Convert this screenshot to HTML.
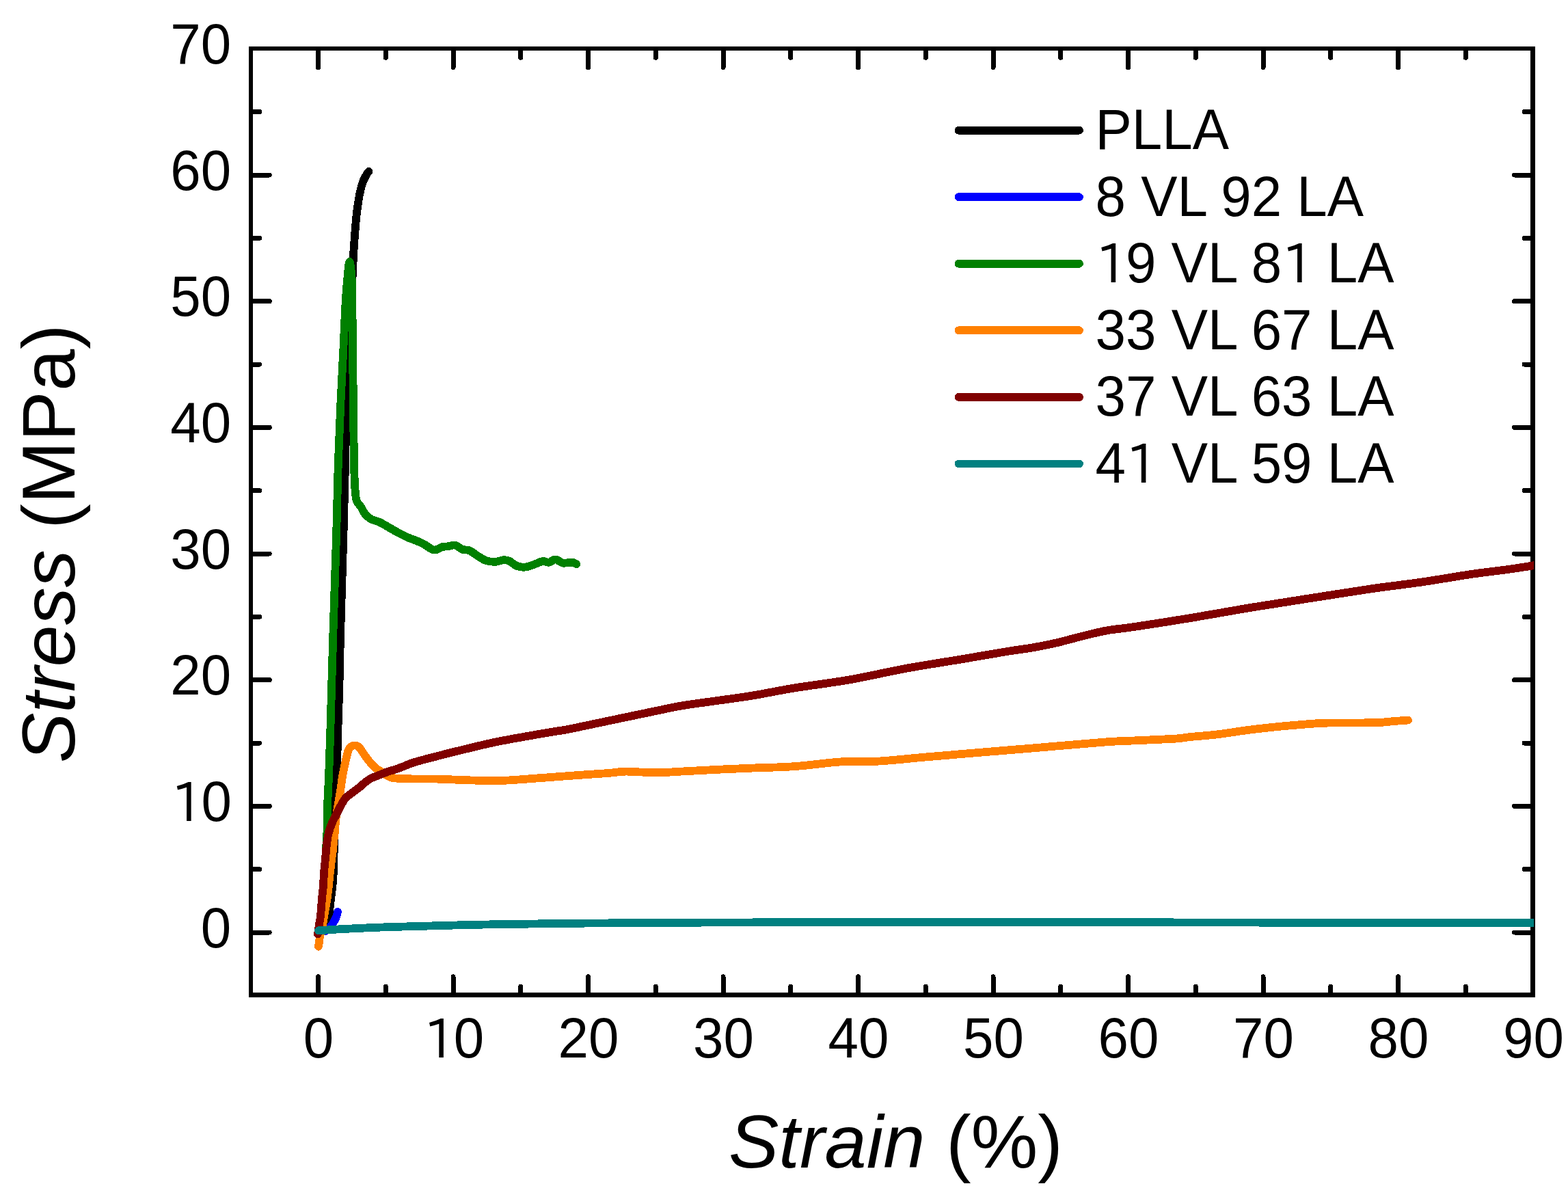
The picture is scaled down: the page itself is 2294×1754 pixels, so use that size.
<!DOCTYPE html>
<html><head><meta charset="utf-8"><title>Stress-strain curves</title>
<style>
html,body{margin:0;padding:0;background:#fff;}
body{width:2294px;height:1754px;overflow:hidden;}
svg{display:block;}
text{font-family:"Liberation Sans",Arial,sans-serif;fill:#000;}
</style></head><body>
<svg width="2294" height="1754" viewBox="0 0 2294 1754">
<rect width="2294" height="1754" fill="#fff"/>
<g fill="#000" shape-rendering="crispEdges"><rect x="364" y="68" width="6" height="1391"/><rect x="2239" y="68" width="7" height="1391"/><rect x="364" y="68" width="1882" height="6"/><rect x="364" y="1452" width="1882" height="7"/></g>
<path d="M465.5 1452 V1428.8 M465.5 74 V98.8 M564.2 1452 V1443.3 M564.2 74 V84.3 M663 1452 V1428.8 M663 74 V98.8 M761.8 1452 V1443.3 M761.8 74 V84.3 M860.5 1452 V1428.8 M860.5 74 V98.8 M959.2 1452 V1443.3 M959.2 74 V84.3 M1058 1452 V1428.8 M1058 74 V98.8 M1156.8 1452 V1443.3 M1156.8 74 V84.3 M1255.5 1452 V1428.8 M1255.5 74 V98.8 M1354.2 1452 V1443.3 M1354.2 74 V84.3 M1453 1452 V1428.8 M1453 74 V98.8 M1551.8 1452 V1443.3 M1551.8 74 V84.3 M1650.5 1452 V1428.8 M1650.5 74 V98.8 M1749.2 1452 V1443.3 M1749.2 74 V84.3 M1848 1452 V1428.8 M1848 74 V98.8 M1946.8 1452 V1443.3 M1946.8 74 V84.3 M2045.5 1452 V1428.8 M2045.5 74 V98.8 M2144.2 1452 V1443.3 M2144.2 74 V84.3 M370 1364 H394.2 M2239 1364 H2215.5 M370 1271.7 H379.8 M2239 1271.7 H2230 M370 1179.3 H394.2 M2239 1179.3 H2215.5 M370 1087 H379.8 M2239 1087 H2230 M370 994.7 H394.2 M2239 994.7 H2215.5 M370 902.3 H379.8 M2239 902.3 H2230 M370 810 H394.2 M2239 810 H2215.5 M370 717.7 H379.8 M2239 717.7 H2230 M370 625.3 H394.2 M2239 625.3 H2215.5 M370 533 H379.8 M2239 533 H2230 M370 440.7 H394.2 M2239 440.7 H2215.5 M370 348.3 H379.8 M2239 348.3 H2230 M370 256 H394.2 M2239 256 H2215.5 M370 163.6 H379.8 M2239 163.6 H2230" stroke="#000" stroke-width="7" stroke-linecap="round" fill="none" shape-rendering="crispEdges"/>
<clipPath id="pc"><rect x="300" y="0" width="1944" height="1754"/></clipPath>
<g fill="none" stroke-width="11.8" stroke-linecap="round" stroke-linejoin="round" shape-rendering="crispEdges" clip-path="url(#pc)">
<path d="M465.5 1364 C466.4 1363.3 469.2 1361.7 471 1360 C472.8 1358.3 474.7 1356.2 476 1354 C477.3 1351.8 478.2 1349.3 479 1347 C479.8 1344.7 480.1 1345.3 481 1340 C481.9 1334.7 483.2 1322.5 484.1 1315 C485 1307.5 485.9 1301.4 486.5 1295 C487.1 1288.6 487.5 1282.9 487.8 1276.6 C488.1 1270.3 488 1262.4 488.2 1257 C488.4 1251.6 488.6 1249.3 488.8 1244 C489 1238.7 488.9 1233.9 489.2 1225 C489.4 1216.1 489.9 1201.5 490.3 1190.5 C490.7 1179.5 491.2 1170.5 491.6 1159.3 C492.1 1148.1 492.6 1138.5 493 1123.6 C493.4 1108.7 493.7 1090.6 494.3 1070 C494.9 1049.4 495.9 1023.3 496.5 1000 C497.1 976.7 497 966.7 498 930 C499 893.3 501.3 821.7 502.5 780 C503.7 738.3 504.2 711.7 505 680 C505.8 648.3 506.2 620 507 590 C507.8 560 508.6 523.3 509.5 500 C510.4 476.7 511.5 465.2 512.5 450 C513.5 434.8 514.6 421.5 515.4 408.6 C516.2 395.8 516.6 381.8 517.1 372.9 C517.6 364 517.9 361 518.3 355 C518.7 349 519.1 343.1 519.6 337.1 C520.1 331.2 520.5 325.2 521.1 319.3 C521.7 313.4 522.4 307.3 523.3 301.4 C524.2 295.4 525 289.4 526.3 283.6 C527.5 277.8 529 271.4 530.8 266.5 C532.5 261.6 535.3 257.1 536.8 254.5 C538.2 251.9 539 251.4 539.5 250.8" stroke="#000000"/>
<path d="M467 1362 C467.9 1362.1 470.6 1362.7 472.5 1362.5 C474.4 1362.3 476.4 1362.4 478.5 1361 C480.6 1359.6 483.2 1356.4 485 1354 C486.8 1351.6 488.2 1348.8 489.5 1346.5 C490.8 1344.2 491.8 1342.1 492.5 1340 C493.2 1337.9 493.8 1335 494 1334" stroke="#0000FF"/>
<path d="M466.5 1367 C467.1 1361.7 468.9 1346.2 470 1335 C471.1 1323.8 472.1 1310.8 473 1300 C473.9 1289.2 474.8 1279.9 475.5 1270 C476.2 1260.1 476.7 1248.3 477.1 1240.6 C477.5 1232.9 477.7 1228.9 478 1224 C478.3 1219.1 478.6 1217.5 478.7 1211 C478.8 1204.5 478.4 1197.5 478.8 1185 C479.2 1172.5 480.2 1155.2 481 1136 C481.8 1116.8 482.2 1104.3 483.3 1070 C484.4 1035.7 485.8 978.3 487.3 930 C488.8 881.7 490.9 821.9 492.2 780 C493.4 738.1 493.8 710.4 494.8 678.6 C495.8 646.8 497.1 617.4 498.4 589.3 C499.7 561.2 501.2 534.2 502.4 510 C503.6 485.8 504.5 461.8 505.5 444.3 C506.5 426.8 507.5 415.2 508.5 405 C509.5 394.8 510.4 383 511.4 383 C512.4 383 513.8 394.8 514.5 405 C515.2 415.2 515.1 426.5 515.4 444 C515.6 461.5 515.7 482.8 516 510 C516.3 537.2 516.8 578.9 517.1 607 C517.4 635.1 517.6 660.7 518 678.6 C518.4 696.5 518.8 705.7 519.4 714.6 C520 723.5 520.1 727.3 521.6 731.9 C523.1 736.5 526.3 738.8 528.5 742.3 C530.7 745.8 532.1 749.7 534.6 752.6 C537.1 755.5 539.8 757.7 543.2 759.6 C546.7 761.5 551 761.9 555.3 763.9 C559.6 765.9 564.6 769.1 569.2 771.7 C573.8 774.3 578.4 777 583 779.5 C587.6 782 592.3 784.4 596.9 786.4 C601.5 788.4 606.7 789.9 610.7 791.6 C614.7 793.3 617.1 794.6 621.1 796.7 C625.1 798.9 630.6 803.9 634.9 804.5 C639.2 805.1 643.5 801.1 647 800.2 C650.5 799.3 652.5 799.7 655.7 799.3 C658.9 798.9 662.5 796.9 666 797.6 C669.5 798.3 672.9 802.4 676.4 803.7 C679.9 805 683 803.8 686.8 805.4 C690.5 807 694.9 810.8 698.9 813.2 C702.9 815.7 706.7 818.7 711 820.1 C715.3 821.5 720.6 821.9 724.9 821.8 C729.2 821.6 733.5 819.3 737 819.2 C740.5 819.1 742.4 819.5 745.6 821 C748.8 822.5 752.2 826.5 756 827.9 C759.8 829.3 764.1 829.9 768.1 829.6 C772.1 829.3 775.9 827.6 780.2 826.2 C784.5 824.8 790.2 821.6 794 821 C797.8 820.4 799.5 823.1 802.7 822.7 C805.9 822.3 809.7 818.2 813.1 818.4 C816.5 818.5 819.4 822.9 823.4 823.6 C827.4 824.3 834 822.4 837.3 822.7 C840.6 823 842.3 824.9 843.3 825.3" stroke="#008000"/>
<path d="M466 1384.7 C466.2 1383.5 466.6 1380.3 467 1377.5 C467.4 1374.7 467.6 1372.2 468.5 1368 C469.4 1363.8 471.3 1357.2 472.2 1352.5 C473.1 1347.8 473.1 1346.2 474.1 1340 C475.2 1333.8 477.3 1323 478.5 1315 C479.7 1307 480.6 1298.4 481.3 1292 C482 1285.6 482.2 1282.4 482.9 1276.6 C483.5 1270.8 484.5 1262.5 485.2 1257 C485.9 1251.5 486.4 1248.3 486.9 1243.9 C487.4 1239.5 487.7 1235.2 488.2 1230.8 C488.7 1226.4 489.4 1222.1 489.8 1217.7 C490.2 1213.3 490.4 1209.2 490.8 1204.6 C491.2 1200 491.8 1194.9 492.5 1190 C493.2 1185.1 494.1 1180.5 495 1175 C495.9 1169.5 496.9 1164 498 1157 C499.1 1150 500.2 1140.2 501.5 1133 C502.8 1125.8 504.2 1119.8 505.5 1114 C506.8 1108.2 508.2 1101.7 509.5 1098 C510.8 1094.3 511.8 1093.2 513.5 1092 C515.2 1090.8 517.8 1090.5 519.5 1090.5 C521.2 1090.5 522.5 1091 524 1092 C525.5 1093 526.3 1094.2 528.2 1096.8 C530.1 1099.4 533 1104.2 535.4 1107.5 C537.8 1110.8 540.1 1113.7 542.5 1116.4 C544.9 1119.1 547.1 1121.5 549.6 1123.6 C552.1 1125.7 555.1 1127.2 557.7 1128.9 C560.3 1130.6 562.3 1132.5 565 1134 C567.7 1135.5 569.4 1137 573.8 1137.9 C578.2 1138.8 583.9 1138.9 591.6 1139.2 C599.3 1139.5 612.5 1139.5 620 1139.6 C627.5 1139.6 624.6 1139.2 636.5 1139.5 C648.4 1139.8 675.3 1141.1 691.2 1141.5 C707.1 1141.9 717.3 1142.4 732.1 1142 C746.9 1141.6 766 1139.9 780 1138.9 C794 1137.9 803.9 1137.1 816 1136.2 C828.1 1135.3 840.5 1134.4 852.8 1133.5 C865.1 1132.6 879.6 1131.8 890 1131 C900.4 1130.2 906.7 1128.8 915 1128.6 C923.3 1128.4 930.8 1129.4 940 1129.6 C949.2 1129.8 960 1130.2 970 1130 C980 1129.8 986.7 1129.1 1000 1128.4 C1013.3 1127.7 1033.3 1126.6 1050 1125.8 C1066.7 1125 1081.3 1124.4 1100 1123.6 C1118.7 1122.8 1140.2 1122.7 1161.9 1121.2 C1183.6 1119.7 1209.7 1115.7 1230.2 1114.4 C1250.7 1113.1 1264.3 1114.7 1284.8 1113.6 C1305.3 1112.5 1328.1 1109.8 1353.1 1107.6 C1378.1 1105.4 1407.7 1103 1435 1100.7 C1462.3 1098.4 1486.4 1096.5 1517 1093.9 C1547.6 1091.4 1594.7 1087.2 1618.5 1085.4 C1642.3 1083.7 1643.1 1084.2 1660 1083.4 C1676.9 1082.6 1706.3 1081.5 1720 1080.6 C1733.7 1079.7 1731.9 1079 1741.9 1078 C1751.9 1077 1767.3 1076 1780 1074.5 C1792.7 1073 1806.5 1070.6 1818.3 1069 C1830.1 1067.4 1840.1 1066.2 1851 1065 C1861.9 1063.8 1870.2 1062.9 1883.9 1061.7 C1897.6 1060.5 1919.3 1058.6 1933 1057.9 C1946.7 1057.2 1952.1 1057.7 1965.8 1057.6 C1979.5 1057.5 2002.5 1057.5 2014.9 1057.1 C2027.3 1056.7 2032.5 1055.6 2040 1055 C2047.5 1054.4 2056.7 1053.8 2060 1053.5" stroke="#FF8000"/>
<path d="M465 1366.5 C465.3 1364.1 466.3 1356.4 467 1352 C467.7 1347.6 468.3 1346.2 469 1340 C469.7 1333.8 470.3 1322.5 471 1315 C471.7 1307.5 472.5 1301.4 473 1295 C473.5 1288.6 473.5 1282.9 474 1276.6 C474.5 1270.3 475.4 1262.5 475.9 1257 C476.4 1251.5 476.7 1248.3 477.1 1243.9 C477.5 1239.5 477.9 1235.2 478.5 1230.8 C479.1 1226.4 479.8 1222.1 481 1217.7 C482.2 1213.3 483.7 1209 485.5 1204.6 C487.3 1200.2 489.9 1195.6 492 1191.5 C494.1 1187.4 495.7 1183.7 497.9 1179.8 C500.1 1175.9 502.6 1171.2 505 1168.2 C507.4 1165.2 509.7 1163.9 512.1 1162 C514.5 1160.1 516.9 1158.4 519.3 1156.6 C521.7 1154.8 524 1153.2 526.4 1151.3 C528.8 1149.4 530.9 1147.1 533.6 1145 C536.3 1142.9 539.5 1140.4 542.5 1138.8 C545.5 1137.2 548.4 1136.4 551.4 1135.2 C554.4 1134 557.4 1132.8 560.4 1131.6 C563.4 1130.4 566 1129.4 569.3 1128.3 C572.6 1127.2 576.2 1126.4 580 1125.1 C583.8 1123.8 587.8 1122.1 592 1120.5 C596.2 1118.9 598.6 1117.5 605 1115.5 C611.4 1113.5 617.6 1111.8 630.1 1108.6 C642.6 1105.3 663.4 1100 680.1 1096 C696.8 1092 710.2 1088.5 730.2 1084.5 C750.2 1080.5 783.8 1074.8 800 1072 C816.2 1069.2 818.9 1069.1 827.7 1067.5 C836.5 1065.9 842.6 1064.5 852.8 1062.4 C863 1060.3 876.9 1057.3 889 1054.8 C901.1 1052.2 913.4 1049.6 925.6 1047.1 C937.8 1044.5 949.9 1042 962 1039.5 C974.1 1037 984.5 1034.5 998.5 1032.2 C1012.5 1029.9 1029.3 1027.8 1046.2 1025.4 C1063.1 1023 1080.7 1020.9 1100 1017.7 C1119.3 1014.6 1137.9 1010.4 1161.9 1006.5 C1185.9 1002.6 1216.6 999 1243.9 994.2 C1271.2 989.4 1298.5 982.8 1325.8 977.8 C1353.1 972.8 1383.2 968.3 1407.7 964.2 C1432.2 960.1 1455.8 955.9 1472.8 953.1 C1489.8 950.3 1497.9 949.6 1510 947.5 C1522.1 945.4 1533.6 943.1 1545.6 940.4 C1557.6 937.6 1569.8 934 1582 931 C1594.2 928 1605.5 924.9 1618.5 922.5 C1631.5 920.1 1639.4 920 1660 916.9 C1680.6 913.8 1715.5 908.4 1741.9 904 C1768.3 899.6 1797.5 894.3 1818.3 890.8 C1839.1 887.3 1850.6 885.6 1867 883 C1883.4 880.4 1900.1 877.8 1916.6 875.2 C1933.1 872.6 1949.6 870 1966 867.5 C1982.4 865 1995.9 862.8 2014.9 860.1 C2033.9 857.4 2057.2 854.8 2080 851.5 C2102.8 848.2 2130.6 843.2 2151.6 840.1 C2172.6 837 2189.8 835.3 2206.2 833 C2222.6 830.7 2242.7 827.4 2250 826.3" stroke="#800000"/>
<path d="M466 1361.3 C472.5 1360.9 487.2 1359.8 505 1358.9 C522.8 1358 541.2 1357 573 1356 C604.8 1355 651.5 1353.7 695.8 1352.8 C740.1 1351.9 781 1351.2 839 1350.7 C897 1350.2 958.8 1349.8 1044 1349.5 C1129.2 1349.2 1216.9 1349 1350 1349 C1483.1 1349 1692.5 1349.4 1842.5 1349.6 C1992.5 1349.8 2182.1 1350.3 2250 1350.4" stroke="#008080"/>
</g>
<g font-size="83.2">
<text transform="translate(466 1546.8) scale(0.961 1)" text-anchor="middle">0</text>
<text transform="translate(663.5 1546.8) scale(0.961 1)" text-anchor="middle"><tspan font-family="IPAPGothic,'Liberation Sans',sans-serif" font-size="78.2" dx="0.7" dy="0.9">1</tspan><tspan dx="-3.7" dy="-0.9">0</tspan></text>
<text transform="translate(861 1546.8) scale(0.961 1)" text-anchor="middle">20</text>
<text transform="translate(1058.5 1546.8) scale(0.961 1)" text-anchor="middle">30</text>
<text transform="translate(1256 1546.8) scale(0.961 1)" text-anchor="middle">40</text>
<text transform="translate(1453.5 1546.8) scale(0.961 1)" text-anchor="middle">50</text>
<text transform="translate(1651 1546.8) scale(0.961 1)" text-anchor="middle">60</text>
<text transform="translate(1848.5 1546.8) scale(0.961 1)" text-anchor="middle">70</text>
<text transform="translate(2046 1546.8) scale(0.961 1)" text-anchor="middle">80</text>
<text transform="translate(2243.5 1546.8) scale(0.961 1)" text-anchor="middle">90</text>
<text transform="translate(338.3 1385.5) scale(0.961 1)" text-anchor="end">0</text>
<text transform="translate(338.3 1200.8) scale(0.961 1)" text-anchor="end"><tspan font-family="IPAPGothic,'Liberation Sans',sans-serif" font-size="78.2" dx="0.7" dy="0.9">1</tspan><tspan dx="-3.7" dy="-0.9">0</tspan></text>
<text transform="translate(338.3 1016.2) scale(0.961 1)" text-anchor="end">20</text>
<text transform="translate(338.3 831.5) scale(0.961 1)" text-anchor="end">30</text>
<text transform="translate(338.3 646.8) scale(0.961 1)" text-anchor="end">40</text>
<text transform="translate(338.3 462.2) scale(0.961 1)" text-anchor="end">50</text>
<text transform="translate(338.3 277.5) scale(0.961 1)" text-anchor="end">60</text>
<text transform="translate(338.3 92.8) scale(0.961 1)" text-anchor="end">70</text>
</g>
<g font-size="83.2">
<path d="M1402.5 190.6 H1579" stroke="#000000" stroke-width="11.8" stroke-linecap="round" shape-rendering="crispEdges"/>
<text transform="translate(1602.5 217.9) scale(0.961 1)">PLLA</text>
<path d="M1402.5 288.2 H1579" stroke="#0000FF" stroke-width="11.8" stroke-linecap="round" shape-rendering="crispEdges"/>
<text transform="translate(1602.5 315.5) scale(0.961 1)">8 VL 92 LA</text>
<path d="M1402.5 385.8 H1579" stroke="#008000" stroke-width="11.8" stroke-linecap="round" shape-rendering="crispEdges"/>
<text transform="translate(1602.5 413.1) scale(0.961 1)"><tspan font-family="IPAPGothic,'Liberation Sans',sans-serif" font-size="78.2" dx="0.7" dy="0.9">1</tspan><tspan dx="-3.7" dy="-0.9">9</tspan> VL 8<tspan font-family="IPAPGothic,'Liberation Sans',sans-serif" font-size="78.2" dx="0.7" dy="0.9">1</tspan><tspan dx="-3.7" dy="-0.9"> </tspan>LA</text>
<path d="M1402.5 483.3 H1579" stroke="#FF8000" stroke-width="11.8" stroke-linecap="round" shape-rendering="crispEdges"/>
<text transform="translate(1602.5 510.6) scale(0.961 1)">33 VL 67 LA</text>
<path d="M1402.5 580.9 H1579" stroke="#800000" stroke-width="11.8" stroke-linecap="round" shape-rendering="crispEdges"/>
<text transform="translate(1602.5 608.2) scale(0.961 1)">37 VL 63 LA</text>
<path d="M1402.5 678.5 H1579" stroke="#008080" stroke-width="11.8" stroke-linecap="round" shape-rendering="crispEdges"/>
<text transform="translate(1602.5 705.8) scale(0.961 1)">4<tspan font-family="IPAPGothic,'Liberation Sans',sans-serif" font-size="78.2" dx="0.7" dy="0.9">1</tspan><tspan dx="-3.7" dy="-0.9"> </tspan>VL 59 LA</text>
</g>
<text font-size="110" x="1066" y="1707.6"><tspan font-style="italic">Strain</tspan> (%)</text>
<text font-size="110" transform="translate(109 1116) rotate(-90)"><tspan font-style="italic">Stress</tspan> (MPa)</text>
</svg>
</body></html>
